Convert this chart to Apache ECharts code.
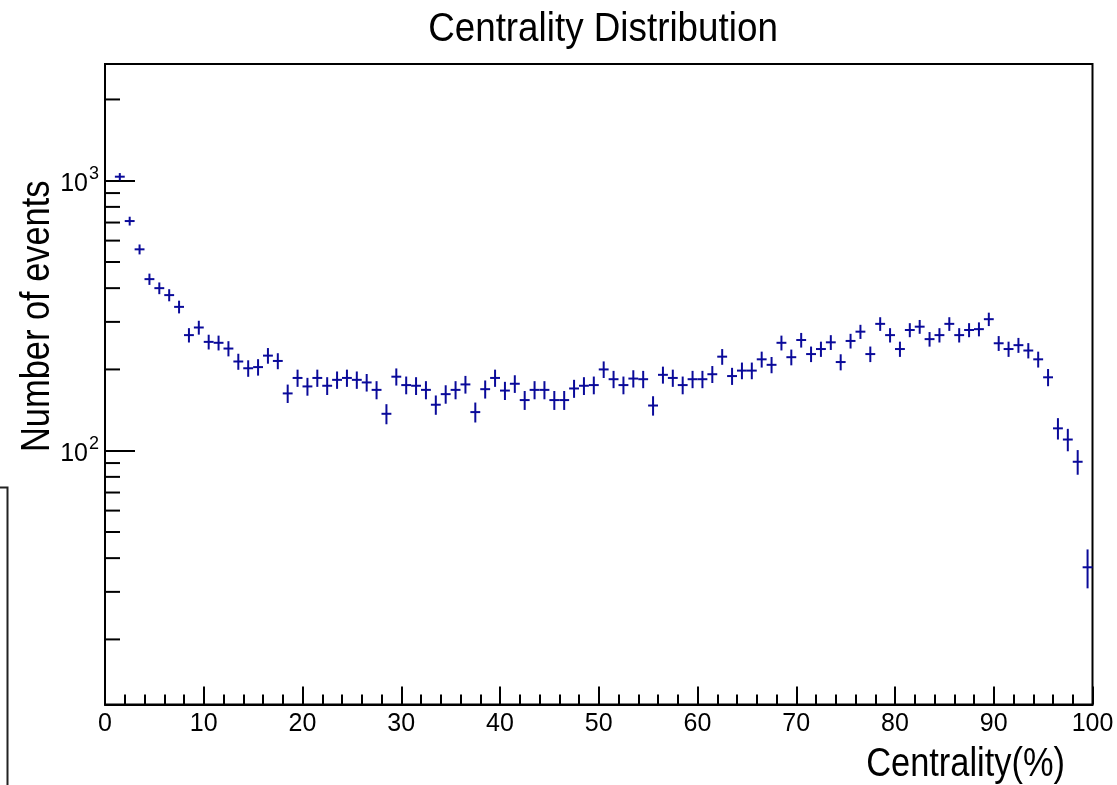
<!DOCTYPE html>
<html>
<head>
<meta charset="utf-8">
<script src="https://cdn.jsdelivr.net/npm/echarts@6/dist/echarts.min.js"></script>
<style>
html,body{margin:0;padding:0;background:#fff;}
#chart{width:1117px;height:785px;}
</style>
</head>
<body>
<div id="chart"></div>
<script>
// Histogram: centrality bins of width 1, first filled bin is [1,2]
const binStart = 1;
const binWidth = 1;
const counts = [
  1035, 709, 557, 432, 400, 377, 341, 268, 286,
  253, 251, 239, 214, 202, 204, 225, 215, 163, 186,
  173, 186, 174, 183, 186, 183, 179, 168, 137, 188,
  175, 174, 168, 148, 162, 168, 176, 139, 169, 186,
  167, 177, 154, 168, 168, 154, 154, 170, 174, 175,
  200, 184, 175, 185, 184, 147, 191, 186, 175, 184,
  184, 192, 223, 189, 198, 198, 218, 208, 251, 222,
  257, 228, 238, 252, 213, 255, 276, 228, 295, 268,
  238, 280, 288, 259, 268, 295, 268, 280, 282, 307,
  250, 238, 246, 235, 218, 187, 121, 110, 91, 37
];
const xTickLabels = ['0','10','20','30','40','50','60','70','80','90','100'];
const yDecades = [100, 1000];
const yMinorTicks = [20, 30, 40, 50, 60, 70, 80, 90, 200, 300, 400, 500, 600, 700, 800, 900, 2000];
const titleText = 'Centrality Distribution';
const xTitle = 'Centrality(%)';
const yTitle = 'Number of events';

const FONT = "'Liberation Sans', Arial, sans-serif";
const MARK = '#0a0a9a';

const histData = counts.map((c, i) => [binStart + binWidth * (i + 0.5), c, Math.sqrt(c)]);

const chart = echarts.init(document.getElementById('chart'), null, {renderer: 'canvas'});

chart.setOption({
  animation: false,
  backgroundColor: '#fff',
  grid: {
    left: 105, right: 24.5, top: 64, bottom: 80.5,
    show: true, borderColor: '#000', borderWidth: 2, backgroundColor: 'transparent'
  },
  xAxis: {
    type: 'value',
    min: 0, max: 100, interval: 10,
    axisLine: {show: true, lineStyle: {color: '#000', width: 2}},
    axisTick: {show: true, inside: true, length: 18, lineStyle: {color: '#000', width: 2}},
    minorTick: {show: true, splitNumber: 5, length: 10, lineStyle: {color: '#000', width: 2}},
    splitLine: {show: false},
    axisLabel: {
      margin: 7, fontFamily: FONT, fontSize: 25, color: '#000',
      formatter: v => xTickLabels[Math.round(v / 10)] || ''
    }
  },
  yAxis: {
    type: 'log',
    logBase: 10,
    min: 11.48, max: 2706,
    axisLine: {show: true, lineStyle: {color: '#000', width: 2}},
    axisTick: {show: true, inside: true, length: 30, lineStyle: {color: '#000', width: 2}},
    splitLine: {show: false},
    axisLabel: {
      margin: 6, color: '#000',
      formatter: v => {
        const r = Math.round(Math.log10(v));
        if (yDecades.indexOf(Math.round(v)) < 0 || Math.abs(Math.log10(v) - r) > 1e-6) return '';
        return '{b|10}{s|' + r + '}';
      },
      rich: {
        b: {fontFamily: FONT, fontSize: 25, color: '#000', verticalAlign: 'bottom'},
        s: {fontFamily: FONT, fontSize: 18, color: '#000', verticalAlign: 'top', padding: [0, 0, 14, 1]}
      }
    }
  },
  graphic: [
    {type: 'text', x: 603, y: 30, scaleX: 0.92, style: {text: titleText, font: '40px ' + FONT, fill: '#000', textAlign: 'center', textVerticalAlign: 'middle'}},
    {type: 'text', x: 1065, y: 765, scaleX: 0.86, style: {text: xTitle, font: '40px ' + FONT, fill: '#000', textAlign: 'right', textVerticalAlign: 'middle'}},
    {type: 'text', x: 18, y: 452, rotation: Math.PI / 2, scaleX: 0.86, style: {text: yTitle, font: '40px ' + FONT, fill: '#000', textAlign: 'left', textVerticalAlign: 'top'}},
    {type: 'polyline', shape: {points: [[0, 487.5], [7.5, 487.5], [7.5, 785]]}, style: {stroke: '#222', lineWidth: 2, fill: null}}
  ],
  series: [
    {
      type: 'custom',
      name: 'minor y ticks',
      silent: true,
      data: yMinorTicks.map(v => [0, v]),
      encode: {x: 0, y: 1},
      clip: false,
      renderItem: (params, api) => {
        const p = api.coord([api.value(0), api.value(1)]);
        return {type: 'line', shape: {x1: p[0], y1: p[1], x2: p[0] + 15, y2: p[1]}, style: {stroke: '#000', lineWidth: 2}};
      }
    },
    {
      type: 'custom',
      name: 'Centrality',
      data: histData,
      encode: {x: 0, y: 1},
      clip: false,
      renderItem: (params, api) => {
        const x = api.value(0), y = api.value(1), e = api.value(2);
        const c = api.coord([x, y]);
        const l = api.coord([x - binWidth / 2, y]);
        const r = api.coord([x + binWidth / 2, y]);
        const t = api.coord([x, y + e]);
        const b = api.coord([x, Math.max(y - e, 1e-3)]);
        return {
          type: 'group',
          children: [
            {type: 'line', shape: {x1: l[0], y1: c[1], x2: r[0], y2: c[1]}, style: {stroke: MARK, lineWidth: 2}},
            {type: 'line', shape: {x1: c[0], y1: t[1], x2: c[0], y2: b[1]}, style: {stroke: MARK, lineWidth: 2}}
          ]
        };
      }
    }
  ]
});
</script>
</body>
</html>
